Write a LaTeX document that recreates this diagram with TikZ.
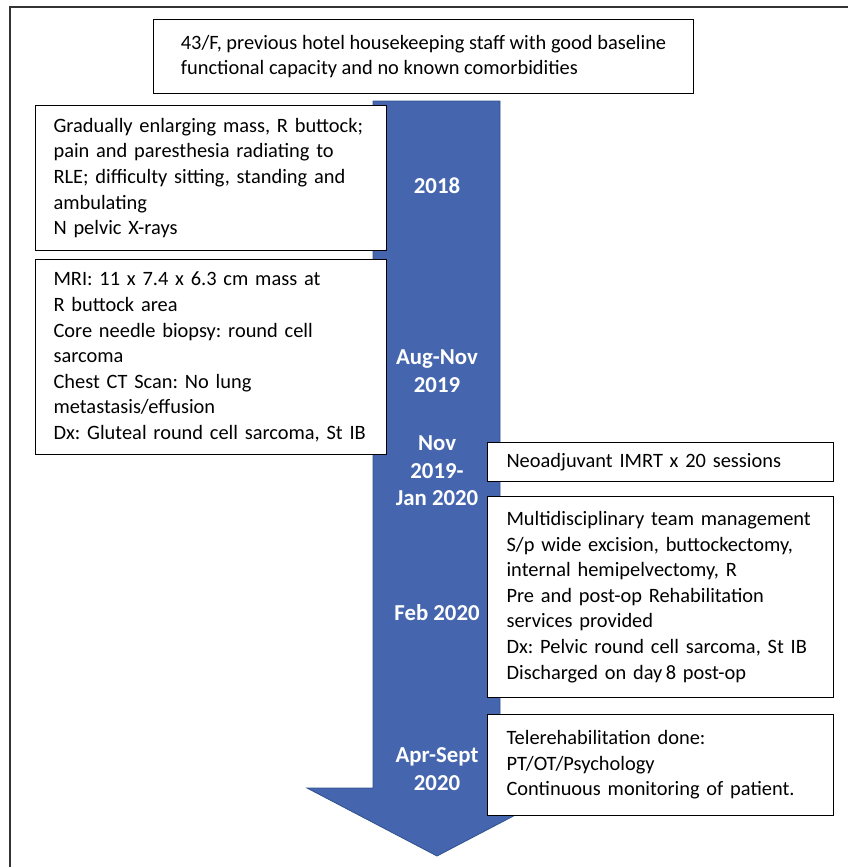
\documentclass[tikz,border=0pt]{standalone}
\usepackage{fontspec}
\setmainfont{Carlito}
\usepackage{xcolor}
\usepackage{tikz}
\usetikzlibrary{positioning}

\definecolor{arrowblue}{RGB}{69,102,174}
\definecolor{arrowedge}{RGB}{47,82,143}

\begin{document}
\frenchspacing
\begin{tikzpicture}[x=1pt, y=-1pt]

  % ===== Styles =====
  \tikzset{
    card/.style={draw=black, line width=1.1pt, fill=white, anchor=north west,
      inner xsep=18pt, inner ysep=0pt, align=left,
      font=\fontsize{20.4}{25.6}\selectfont},
    datelabel/.style={text=white, align=center,
      font=\bfseries\fontsize{22.8}{27.5}\selectfont},
    frameline/.style={draw=black!80, line width=1.2pt}
  }

  \useasboundingbox (0,0) rectangle (848,867);

  % ===== Outer frame (only left and top edges inside the crop) =====
  \draw[frameline] (10,867) -- (10,7) -- (848,7);

  % ===== Timeline arrow =====
  \filldraw[fill=arrowblue, draw=arrowedge, line width=0.8pt]
    (373,101) -- (500,101) -- (500,788) -- (567,788) -- (437,856)
    -- (307,788) -- (373,788) -- cycle;

  % ===== Dates on the arrow =====
  \node[datelabel] (d2018) at (437,186) {2018};
  \node[datelabel] (d2019) at (437,371) {Aug-Nov\\2019};
  \node[datelabel] (dnov) at (437,471) {Nov\\2019-\\Jan 2020};
  \node[datelabel] (dfeb) at (437,613) {Feb 2020};
  \node[datelabel] (dapr) at (437,769) {Apr-Sept\\2020};

  % ===== Patient profile (text block centred in the box) =====
  \node[card, inner xsep=0pt, minimum width=540pt, minimum height=74pt] (profile) at (153,19)
    {43/F, previous hotel housekeeping staff with good baseline\\
     functional capacity and no known comorbidities};

  % ===== Left column =====
  \node[card, text width=315pt, minimum height=145pt] (symptoms) at (35,105)
    {Gradually enlarging mass, R buttock;\\
     pain and paresthesia radiating to\\
     RLE; difficulty sitting, standing and\\
     ambulating\\
     N pelvic X-rays};

  \node[card, text width=315pt, minimum height=195pt] (workup) at (35,259)
    {MRI: 11 x 7.4 x 6.3 cm mass at\\
     R buttock area\\
     Core needle biopsy: round cell\\
     sarcoma\\
     Chest CT Scan: No lung\\
     metastasis/effusion\\
     Dx: Gluteal round cell sarcoma, St IB};

  % ===== Right column =====
  \node[card, inner xsep=19pt, text width=308pt, minimum height=39pt] (imrt) at (487,442)
    {Neoadjuvant IMRT x 20 sessions};

  \node[card, inner xsep=19pt, text width=308pt, minimum height=201pt] (surgery) at (487,496)
    {Multidisciplinary team management\\
     S/p wide excision, buttockectomy,\\
     internal hemipelvectomy, R\\
     Pre and post-op Rehabilitation\\
     services provided\\
     Dx: Pelvic round cell sarcoma, St IB\\
     Discharged on day\,8 post-op};

  \node[card, inner xsep=19pt, text width=308pt, minimum height=101pt] (rehab) at (487,714)
    {Telerehabilitation done:\\
     PT/OT/Psychology\\
     Continuous monitoring of patient.};

\end{tikzpicture}
\end{document}
